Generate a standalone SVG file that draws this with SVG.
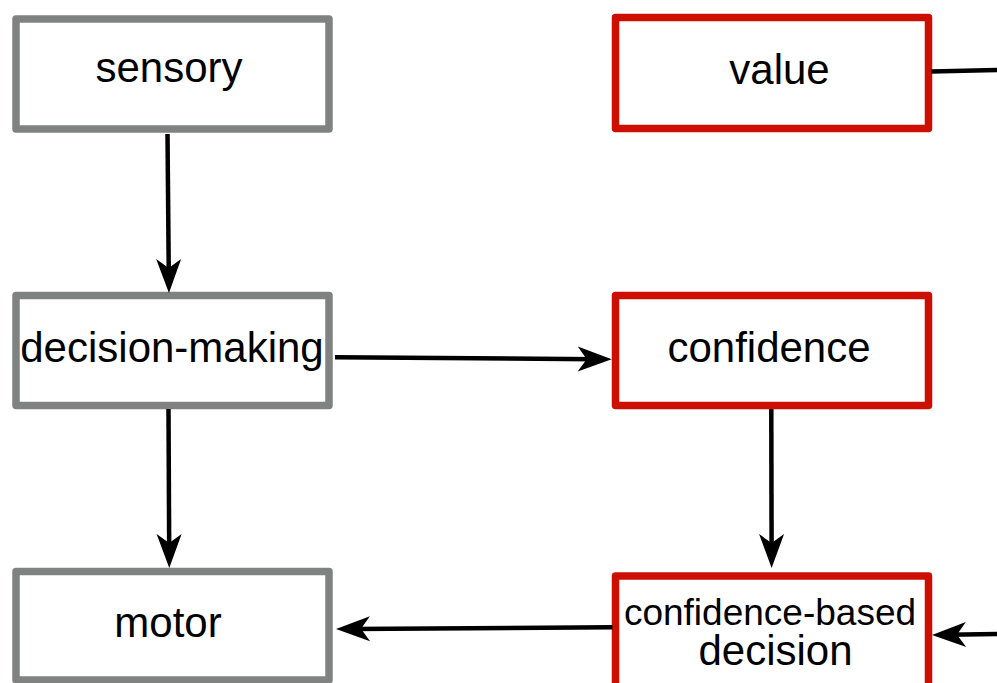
<svg xmlns="http://www.w3.org/2000/svg" width="997" height="683" viewBox="0 0 997 683">
<style>
.gray{fill:#fff;stroke:#808281;stroke-width:7.5;stroke-linejoin:round}
.red{fill:#fff;stroke:#cc0f00;stroke-width:7.5;stroke-linejoin:round}
text{font-family:"Liberation Sans",Arial,sans-serif;font-size:42px;fill:#000;text-anchor:middle}
.small{font-size:37px}
.conn line{stroke:#000;stroke-width:4.5;fill:none}
</style>
<defs>
<marker id="ah" markerUnits="userSpaceOnUse" markerWidth="60" markerHeight="60" refX="0" refY="0" viewBox="-30 -30 60 60" orient="auto" overflow="visible">
<path d="M16,0 L-18,-12.5 L-9,0 L-18,12.5 Z" fill="#000"/>
</marker>
</defs>
<rect width="997" height="683" fill="#fff"/>
<g id="sensory"><rect class="gray" x="16" y="19" width="313" height="110"/><text x="169" y="82">sensory</text></g>
<g id="decision-making"><rect class="gray" x="16" y="295.5" width="313" height="110"/><text x="172" y="362">decision-making</text></g>
<g id="motor"><rect class="gray" x="16" y="571.5" width="313" height="108.5"/><text x="168" y="637">motor</text></g>
<g id="value"><rect class="red" x="615.5" y="17.5" width="313" height="111"/><text x="779.5" y="83.5">value</text></g>
<g id="confidence"><rect class="red" x="615.5" y="295.5" width="313" height="110"/><text x="769" y="362">confidence</text></g>
<g id="confidence-based-decision"><rect class="red" x="615.5" y="576" width="313" height="112"/><text class="small" x="770" y="624.5">confidence-based</text><text x="775.5" y="665">decision</text></g>
<g id="connectors" class="conn">
<line x1="167.5" y1="134" x2="168.8" y2="277" marker-end="url(#ah)"/>
<line x1="168.5" y1="409" x2="169.2" y2="552" marker-end="url(#ah)"/>
<line x1="771.3" y1="409" x2="771.6" y2="552" marker-end="url(#ah)"/>
<line x1="335" y1="357.3" x2="595.7" y2="359.2" marker-end="url(#ah)"/>
<line x1="612.5" y1="627.3" x2="352" y2="628.9" marker-end="url(#ah)"/>
<line x1="931" y1="71.5" x2="1000" y2="70"/>
<line x1="1000" y1="634" x2="948" y2="634.8" marker-end="url(#ah)"/>
</g>
</svg>
